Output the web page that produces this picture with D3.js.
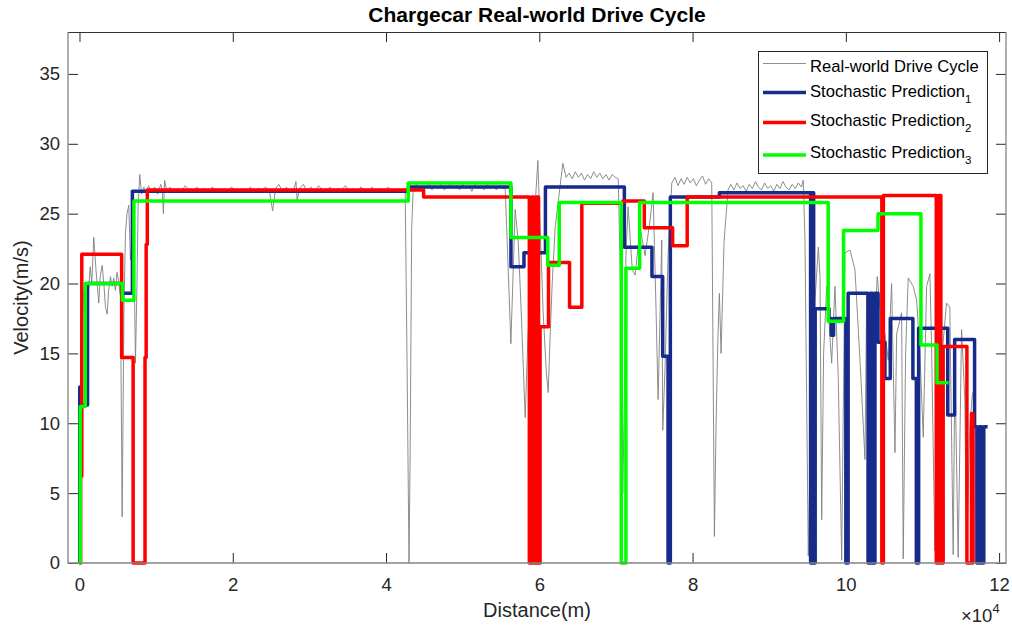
<!DOCTYPE html>
<html lang="en">
<head>
<meta charset="UTF-8">
<title>Chargecar Real-world Drive Cycle</title>
<script src="https://d3js.org/d3.v7.min.js"></script>
<style>
  body { margin: 0; background: #fff; }
  svg { font-family: "Liberation Sans", Arial, Helvetica, sans-serif; }
  .tick text { fill: #262626; font-size: 18.5px; }
  .tick line { stroke: #262626; }
</style>
</head>
<body>
<svg id="chart" width="1012" height="629"></svg>
<script>
// distance (m), velocity (m/s)
const realWorld = [
  [0,0],[220,18.8],[500,19.5],[750,16],[900,12.5],[1100,19],[1400,21.2],[1600,20],[1865,23.3],[2150,21],
  [2517,18.6],[2700,20.5],[2960,21.3],[3200,19.8],[3390,18.3],[3612,17.8],[3800,19.5],[4042,20.5],[4250,19.8],[4473,20.4],
  [4694,19.5],[4900,20.8],[5125,20.1],[5346,19.1],[5568,3.3],[5800,18],[5998,23.6],[6200,25],[6429,25.6],[6650,21.7],
  [6850,22.5],[7081,23.6],[7302,14.3],[7500,20],[7650,25.5],[7863,27.8],[8100,26.4],[8400,26.9],[8700,26.5],[9000,27.0],
  [9400,26.6],[9800,26.9],[10200,26.4],[10600,27.1],[10800,26.7],[10950,25.0],[11100,27.4],[11400,26.6],[11800,26.9],[12300,26.5],
  [12800,26.8],[13300,26.6],[13800,27.0],[14300,26.7],[14800,26.5],[15300,26.9],[15800,26.6],[16300,26.8],[16800,26.5],[17300,26.9],
  [17800,26.7],[18300,26.5],[18800,26.8],[19300,26.6],[19800,26.9],[20300,26.7],[20800,26.5],[21300,26.8],[21800,26.6],[22300,26.9],
  [22800,26.5],[23300,26.8],[23800,26.7],[24300,26.9],[24800,26.6],[25200,25.2],[25600,26.8],[26000,27.1],[26500,26.6],[27000,26.9],
  [27500,26.6],[28000,26.8],[28250,27.3],[28400,25.9],[28700,26.8],[29200,27.1],[29700,26.6],[30200,26.9],[30700,26.5],[31200,27.0],
  [31700,26.7],[32200,26.6],[32700,26.9],[33200,26.5],[33700,26.8],[34200,26.7],[34700,27.0],[35200,26.6],[35700,26.8],[36200,26.5],
  [36700,26.9],[37200,26.7],[37700,26.6],[38200,26.9],[38700,26.5],[39200,26.8],[39700,26.6],[40200,26.9],[40700,26.7],[41200,26.5],
  [41700,26.8],[42200,26.6],[42500,26.6],[42750,14],[43000,0],[43150,8],[43350,24],[43550,26.9],[44000,27.1],[44400,26.7],
  [44800,27.0],[45200,26.8],[45600,27.2],[46000,26.7],[46400,27.0],[46800,26.8],[47200,27.1],[47600,26.7],[48000,26.9],[48400,27.2],
  [48800,26.8],[49200,27.0],[49600,26.7],[50000,27.1],[50400,26.8],[50800,27.0],[51200,26.6],[51600,27.1],[52000,26.8],[52400,27.0],
  [52800,26.7],[53200,27.1],[53600,26.8],[54000,27.0],[54400,26.7],[54800,27.0],[55200,26.8],[55550,26.8],[55810,23],[56290,15.7],
  [56850,25.3],[57250,23],[57640,18],[58160,10.4],[58500,16],[58810,19],[59200,22],[59500,26],[59810,28.8],[60110,24],
  [60500,18],[60900,13.8],[61160,12.2],[61400,16],[61680,20],[62070,24],[62500,26],[63070,28.6],[63500,27.6],[63900,27.9],
  [64300,27.5],[64700,28.0],[65100,27.6],[65500,27.9],[65900,27.4],[66300,27.8],[66700,27.5],[67100,28.0],[67500,27.6],[67900,27.9],
  [68300,27.5],[68700,27.8],[69100,27.4],[69500,27.8],[69900,27.6],[70300,27.5],[70600,20],[70900,5],[71100,12],[71300,22],
  [71590,25.5],[72130,21],[72500,20.6],[73150,24],[73800,22],[74450,24.5],[74850,26.5],[75240,18],[75500,11.7],[75980,23.1],
  [76110,9.5],[76410,14],[76800,22],[77290,27.2],[77700,27.6],[78100,27.0],[78500,27.5],[78900,27.1],[79300,27.6],[79700,27.2],
  [80100,27.5],[80500,27.0],[80900,27.4],[81300,27.7],[81700,27.1],[82100,27.5],[82500,27.2],[82850,1.9],[83070,10],[83300,16],
  [83500,19.3],[83720,15],[84110,23],[84630,26.7],[85000,27.1],[85400,26.7],[85800,27.2],[86200,26.8],[86600,27.0],[87000,26.6],
  [87400,27.1],[87800,26.8],[88200,27.3],[88600,26.9],[89000,26.7],[89400,27.2],[89800,26.8],[90200,27.0],[90600,26.6],[91000,27.1],
  [91400,26.8],[91800,27.3],[92200,26.9],[92600,26.7],[93000,27.1],[93400,26.8],[93800,27.2],[94200,26.9],[94450,27.4],[94670,23.1],
  [95100,0.5],[95500,12],[96000,19],[96410,22.6],[96630,20.5],[96850,3.1],[97100,15],[97500,19.8],[98150,14.3],[98580,19.8],
  [99010,13.3],[99460,0.2],[99890,22.2],[100540,22.4],[101190,21],[101850,14.5],[102500,7.4],[102720,19.3],[103150,0.3],[103600,15],
  [104100,20.5],[104500,18],[105110,16.4],[105540,14.5],[105970,20],[106410,7.9],[106630,16.4],[107280,17.9],[107490,0.3],[107800,15],
  [108140,20.4],[108790,19.8],[109240,18.8],[109670,15],[110100,9],[110540,19.8],[110970,20.7],[111190,15.5],[111620,0.9],[112050,18.1],
  [112490,14.5],[113140,18.6],[113570,18.3],[114010,0.6],[114230,14.1],[114660,0.4],[115100,16.7],[115530,11.7],[115750,0.5],[116180,9.8],
  [116500,12],[116800,12.5]
];

// step predictions: [distance where the step starts, velocity]
const pred1 = [
  [0,0],[30,12.6],[200,11.3],[1050,20],[5500,19.3],[6900,26.6],[42900,26.9],[56300,21.2],[58000,22.2],[60800,26.9],
  [71100,22.6],[74700,20.5],[76100,14.8],[76800,0],[77100,26.2],[83500,26.5],[95400,0],[95600,26.5],[95800,0],[96000,18.2],
  [97800,17.5],[98100,16.3],[98400,17.5],[100000,0],[100300,19.3],[102900,0],[103200,19.3],[103500,0],[103800,19.3],[104200,15.8],
  [105100,13.2],[105800,17.5],[108750,13.2],[109200,0],[109500,16.8],[113300,10.6],[114200,16],[116800,9.75],[117100,0],[117400,9.75],
  [117700,0],[118000,9.75],[118500,9.75]
];
const pred2 = [
  [0,0],[150,6.2],[300,22.1],[5500,14.7],[7000,0],[8550,14.7],[8700,22.8],[8850,26.7],[44900,26.2],[58700,0],
  [59000,26.2],[59300,0],[59600,26.2],[59900,0],[60100,16.9],[61200,21.5],[63950,18.3],[65550,25.75],[70900,25.9],[73700,24.0],
  [77400,22.7],[79300,26.2],[104700,0],[104900,26.3],[111800,0],[112100,26.3],[112400,0],[112700,15.5],[115800,0],[116400,10.7],
  [116600,0],[116700,0]
];
const pred3 = [
  [0,0],[100,11.2],[750,20],[5600,18.8],[7100,25.9],[42900,27.2],[56300,23.3],[61100,21.3],[62600,25.8],[70700,0],
  [71300,21.1],[73100,25.8],[97700,17.3],[99700,23.8],[104200,25.0],[109800,15.6],[111900,12.9],[113400,12.9]
];

const xTicks = [0, 20000, 40000, 60000, 80000, 100000, 120000];
const yTicks = [0, 5, 10, 15, 20, 25, 30, 35];
const seriesNames = ["Real-world Drive Cycle", "Stochastic Prediction", "Stochastic Prediction", "Stochastic Prediction"];
const seriesSubs = ["", "1", "2", "3"];
const seriesColors = ["#808080", "#172b8c", "#ff0000", "#00ff00"];

const plotL = 68, plotR = 1006, plotT = 32, plotB = 563;
const svg = d3.select("#chart");

const x = d3.scaleLinear().domain([-1500, 120900]).range([plotL, plotR]);
const y = d3.scaleLinear().domain([0, 38]).range([plotB, plotT]);

svg.append("defs").append("clipPath").attr("id", "plot")
  .append("rect").attr("x", plotL).attr("y", plotT - 2).attr("width", plotR - plotL).attr("height", plotB - plotT + 4);

// axes, ticks pointing inwards like matlab
svg.append("g").attr("transform", `translate(0,${plotB})`)
  .call(d3.axisBottom(x).tickValues(xTicks).tickFormat(d => d / 10000).tickSizeInner(-10).tickSizeOuter(0).tickPadding(15))
  .call(g => g.select(".domain").remove());
svg.append("g").attr("transform", `translate(0,${plotT})`)
  .call(d3.axisTop(x).tickValues(xTicks).tickFormat("").tickSizeInner(-10).tickSizeOuter(0))
  .call(g => g.select(".domain").remove());
svg.append("g").attr("transform", `translate(${plotL},0)`)
  .call(d3.axisLeft(y).tickValues(yTicks).tickSizeInner(-10).tickSizeOuter(0).tickPadding(8))
  .call(g => g.select(".domain").remove());
svg.append("g").attr("transform", `translate(${plotR},0)`)
  .call(d3.axisRight(y).tickValues(yTicks).tickFormat("").tickSizeInner(-10).tickSizeOuter(0))
  .call(g => g.select(".domain").remove());

// data
const lineReal = d3.line().x(d => x(d[0])).y(d => y(d[1]));
const lineStep = d3.line().x(d => x(d[0])).y(d => y(d[1])).curve(d3.curveStepAfter);

const plot = svg.append("g").attr("clip-path", "url(#plot)");
plot.append("path").datum(realWorld).attr("d", lineReal)
  .attr("fill", "none").attr("stroke", seriesColors[0]).attr("stroke-width", 0.9);
[pred1, pred2, pred3].forEach((s, i) => {
  plot.append("path").datum(s).attr("d", lineStep)
    .attr("fill", "none").attr("stroke", seriesColors[i + 1]).attr("stroke-width", 3.5)
    .attr("stroke-linejoin", "round");
});

// box
svg.append("line").attr("x1", plotL).attr("x2", plotR).attr("y1", plotT + 0.5).attr("y2", plotT + 0.5).attr("stroke", "#333");
svg.append("path").attr("d", `M${plotL},${plotT}V${plotB}H${plotR}V${plotT}`)
  .attr("fill", "none").attr("stroke", "#858585").attr("stroke-width", 1.3);

// title and labels
svg.append("text").attr("x", (plotL + plotR) / 2).attr("y", 22).attr("text-anchor", "middle")
  .attr("font-size", 21).attr("font-weight", "bold").attr("fill", "#000").text("Chargecar Real-world Drive Cycle");
svg.append("text").attr("x", (plotL + plotR) / 2).attr("y", 617).attr("text-anchor", "middle")
  .attr("font-size", 20).attr("fill", "#262626").text("Distance(m)");
svg.append("text").attr("transform", `translate(28,${(plotT + plotB) / 2}) rotate(-90)`).attr("text-anchor", "middle")
  .attr("font-size", 20).attr("fill", "#262626").text("Velocity(m/s)");
const exp = svg.append("text").attr("x", 961).attr("y", 622).attr("font-size", 18.5).attr("fill", "#262626");
exp.append("tspan").text("\u00d710");
exp.append("tspan").attr("dy", -9).attr("font-size", 13).text("4");

// legend
const lg = svg.append("g");
lg.append("rect").attr("x", 758.5).attr("y", 51.5).attr("width", 229).attr("height", 122)
  .attr("fill", "#fff").attr("stroke", "#262626").attr("stroke-width", 1);
const lineY = [63.5, 92.5, 122.5, 155];
const textY = [72, 97, 126, 158];
seriesNames.forEach((name, i) => {
  lg.append("line").attr("x1", 763).attr("x2", 806).attr("y1", lineY[i]).attr("y2", lineY[i])
    .attr("stroke", seriesColors[i]).attr("stroke-width", i === 0 ? 0.9 : 3.5);
  const t = lg.append("text").attr("x", 810).attr("y", textY[i]).attr("font-size", 16.6).attr("fill", "#000").text(name);
  if (seriesSubs[i]) t.append("tspan").attr("dy", 6).attr("font-size", 11.5).text(seriesSubs[i]);
});
</script>
</body>
</html>
